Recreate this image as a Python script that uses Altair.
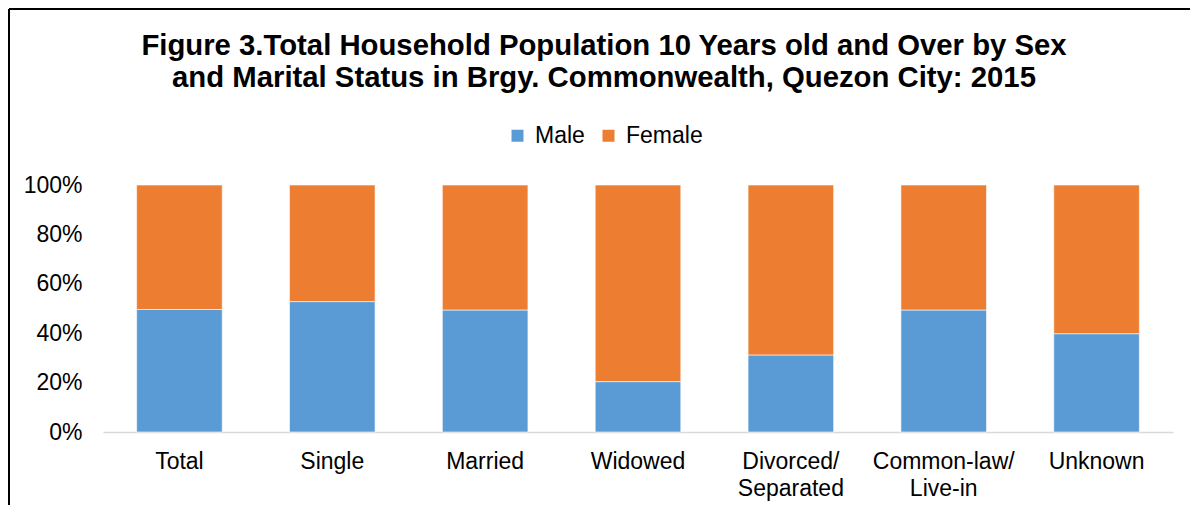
import altair as alt
import pandas as pd

categories = ["Total", "Single", "Married", "Widowed", "Divorced/\nSeparated", "Common-law/\nLive-in", "Unknown"]
male = [49.6, 52.8, 49.4, 20.4, 31.2, 49.4, 39.8]
female = [50.4, 47.2, 50.6, 79.6, 68.8, 50.6, 60.2]
series = ["Male", "Female"]
colors = ["#5B9BD5", "#ED7D31"]
y_ticks = [0, 20, 40, 60, 80, 100]
title_lines = [
    "Figure 3.Total Household Population 10 Years old and Over by Sex",
    "and Marital Status in Brgy. Commonwealth, Quezon City: 2015",
]

rows = []
for c, m, f in zip(categories, male, female):
    rows.append({"cat": c, "sex": "Male", "val": m, "ord": 0})
    rows.append({"cat": c, "sex": "Female", "val": f, "ord": 1})
df = pd.DataFrame(rows)

FONT = "Liberation Sans"

bars = alt.Chart(df).mark_bar(stroke="white", strokeWidth=0.6).encode(
    x=alt.X("cat:N", sort=categories, title=None,
            scale=alt.Scale(paddingInner=0.44, paddingOuter=0.22),
            axis=alt.Axis(labelAngle=0, ticks=False, domainColor="#D9D9D9", domainWidth=1.5,
                          labelFontSize=23, labelFont=FONT, labelColor="#000000",
                          labelPadding=18, labelLineHeight=27,
                          labelExpr="split(datum.label, '\\n')")),
    y=alt.Y("val:Q", stack=True, title=None,
            scale=alt.Scale(domain=[0, 100], nice=False),
            axis=alt.Axis(values=y_ticks, labelExpr="datum.value + '%'", domain=False, ticks=False,
                          grid=False, labelFontSize=23, labelFont=FONT, labelColor="#000000",
                          labelPadding=21)),
    color=alt.Color("sex:N", scale=alt.Scale(domain=series, range=colors),
                    legend=alt.Legend(title=None, orient="none", direction="horizontal",
                                      legendX=403, legendY=-61, symbolType="square", symbolSize=144,
                                      symbolStrokeWidth=0, labelFontSize=23, labelFont=FONT,
                                      labelColor="#000000", labelOffset=6, columnPadding=12)),
    order=alt.Order("ord:Q"),
)

frame_top = alt.Chart(df).mark_rule(color="black", strokeWidth=2).encode(
    x=alt.value(-94), x2=alt.value(1087), y=alt.value(-176))
frame_left = alt.Chart(df).mark_rule(color="black", strokeWidth=2).encode(
    x=alt.value(-94), y=alt.value(-176), y2=alt.value(320))

chart = alt.layer(bars, frame_top, frame_left).properties(
    width=1070, height=247,
    autosize=alt.AutoSizeParams(type="none"),
    padding={"left": 95, "top": 177, "right": 17, "bottom": 73},
    title=alt.TitleParams(title_lines, anchor="middle", frame="group", dx=-34, offset=-85,
                          fontSize=29.3, font=FONT, fontWeight="bold", color="#000000", lineHeight=32),
).configure_view(stroke=None)

chart.save("out.html", embed_options={"renderer": "svg", "actions": False})
